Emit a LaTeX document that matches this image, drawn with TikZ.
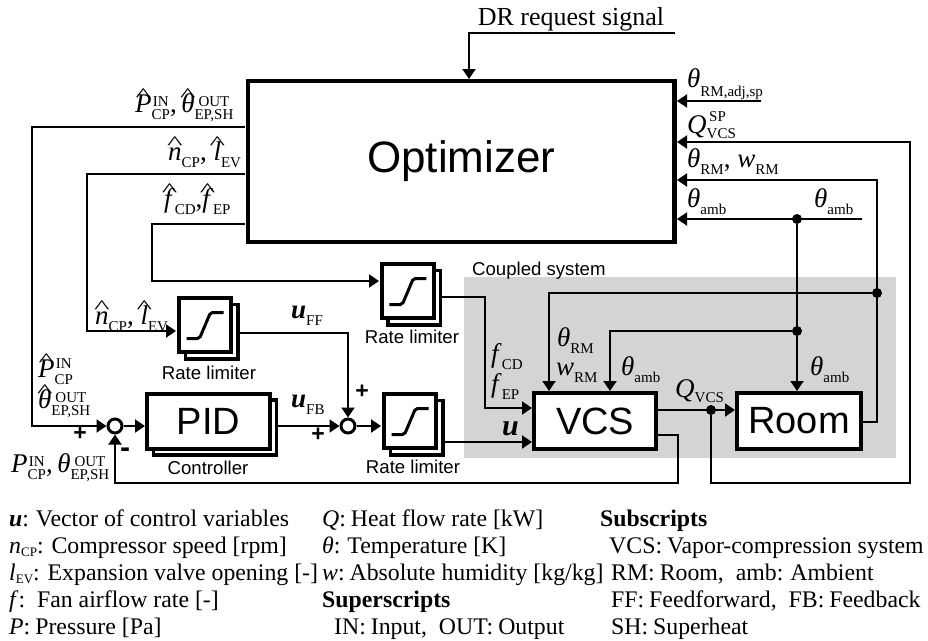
\documentclass[tikz,border=0pt]{standalone}
\usepackage{graphicx}
\usepackage{fontspec}
\setmainfont{Liberation Serif}
\newfontfamily\armfont{Liberation Sans}
\usetikzlibrary{arrows.meta, shadows}

% Variables in the labels
\newcommand{\vth}{\textit{θ}}
\newcommand{\vbf}[1]{\textbf{\textit{#1}}}
\newcommand{\lo}[2][7]{\raisebox{-#1pt}{\fontsize{15}{15}\selectfont #2}}
\newcommand{\stk}[3][6]{{\fontsize{15}{15}\selectfont\setbox0\hbox{#3}\rlap{\hbox to\wd0{\hss\raisebox{#1pt}{#2}\hss}}\raisebox{-7.5pt}{\box0}}}
\newcommand{\vhat}[1]{{\setbox0\hbox{#1}\rlap{\hbox to\wd0{\hss\raisebox{11pt}{\scalebox{1.1}[.65]{\fontsize{30}{30}\selectfont\textasciicircum}}\hss}}\box0}}
\newcommand{\legsub}[1]{\raisebox{-.35ex}{\fontsize{13}{13}\selectfont #1}}

\tikzset{
    sig/.style={line width=2pt, -{Triangle[length=10pt,width=13pt]}},
    wire/.style={line width=2pt},
    blockbox/.style={draw, line width=4pt, fill=white, inner sep=0pt, font=\armfont\fontsize{38}{40}\selectfont},
    boxshadow/.style={copy shadow={shadow xshift=6.5pt, shadow yshift=-6.5pt, draw, fill=white, line width=3.5pt}},
    limiterbox/.style={blockbox, minimum width=52.5pt, minimum height=54.5pt, boxshadow},
    satcurve/.style={line width=3pt, rounded corners=2pt},
    sumnode/.style={circle, draw, line width=3pt, fill=white, minimum size=14pt, inner sep=0pt},
    dotnode/.style={circle, fill=black, minimum size=10pt, inner sep=0pt},
    varlabel/.style={anchor=base west, inner sep=0pt, font=\fontsize{27}{29}\selectfont},
    sanslabel/.style={inner sep=0pt, font=\armfont\fontsize{18.6}{20}\selectfont},
    signlabel/.style={inner sep=0pt, font=\armfont\bfseries\fontsize{23}{25}\selectfont},
    leglabel/.style={anchor=base west, inner sep=0pt, font=\fontsize{23.8}{25}\selectfont},
}

\begin{document}
\begin{tikzpicture}[x=1pt, y=-1pt]
    \useasboundingbox (0,0) rectangle (928,640);

    % Grey area behind the coupled system
    \fill[black!17] (464,277) rectangle (896,458);
    \node[sanslabel, anchor=base west] (coupled) at (472,275.5) {Coupled system};

    % Define the blocks
    \node[blockbox, line width=4.5pt, minimum width=426.5pt, minimum height=161pt, font=\armfont\fontsize{44}{46}\selectfont] (optimizer) at (461.2,161.5) {Optimizer};
    \node[blockbox, minimum width=121.5pt, minimum height=55.4pt] (vcs) at (595.2,421) {VCS};
    \node[blockbox, minimum width=123.7pt, minimum height=55.4pt] (room) at (799,421) {Room};
    \node[blockbox, minimum width=123pt, minimum height=55pt, boxshadow] (pid) at (208.5,421.2) {PID};
    \node[limiterbox] (limiterCD) at (407.8,291) {};
    \node[limiterbox] (limiterEV) at (205,325) {};
    \node[limiterbox] (limiterU) at (410,421) {};
    \node[sumnode] (sumFB) at (115,426) {};
    \node[sumnode] (sumU) at (348,426) {};

    % Saturation curves inside the rate limiters
    \draw[satcurve] ([shift={(-18.5,13.5)}]limiterCD.center) -- ++(13,0) -- ++(11,-26) -- ++(13,0);
    \draw[satcurve] ([shift={(-18.5,13.5)}]limiterEV.center) -- ++(13,0) -- ++(11,-26) -- ++(13,0);
    \draw[satcurve] ([shift={(-18.5,13.5)}]limiterU.center) -- ++(13,0) -- ++(11,-26) -- ++(13,0);

    % Define the points where the wires turn
    \coordinate (drEnd) at (675,33);
    \coordinate (drTurn) at (469,33);
    \coordinate (drIn) at (469,79);
    \coordinate (adjEnd) at (761,101);
    \coordinate (adjIn) at (677,101);
    \coordinate (qspIn) at (677,142);
    \coordinate (qspCorner) at (910,142);
    \coordinate (qspLow) at (910,483);
    \coordinate (qspLeft) at (711,483);
    \coordinate (rmIn) at (677,180);
    \coordinate (rmCorner) at (877,180);
    \coordinate (rmOut) at (863,422);
    \coordinate (rmLow) at (877,422);
    \coordinate (ambIn) at (677,219);
    \coordinate (ambEnd) at (862,219);
    \coordinate (rmLeft) at (549,293);
    \coordinate (rmVcs) at (549,391);
    \coordinate (ambLeft) at (610,331);
    \coordinate (ambVcs) at (610,391);
    \coordinate (ambRoom) at (797,391);
    \coordinate (vcsOut) at (657,435);
    \coordinate (vcsCorner) at (678,435);
    \coordinate (vcsLow) at (678,483);
    \coordinate (fbLow) at (115,483);
    \coordinate (pOut) at (245,127);
    \coordinate (pCorner) at (32,127);
    \coordinate (pLow) at (32,426);
    \coordinate (nOut) at (245,174);
    \coordinate (nCorner) at (87,174);
    \coordinate (nLow) at (87,331);
    \coordinate (fOut) at (245,224);
    \coordinate (fCorner) at (152,224);
    \coordinate (fLow) at (152,281);
    \coordinate (fIn) at (379,281);
    \coordinate (nIn) at (176,331);
    \coordinate (ffOut) at (240,333);
    \coordinate (ffCorner) at (348,333);
    \coordinate (cdOut) at (442,297);
    \coordinate (cdCorner) at (485,297);
    \coordinate (cdLow) at (485,408);
    \coordinate (cdIn) at (532,408);
    \coordinate (uOut) at (444,442);
    \coordinate (uIn) at (532,442);
    \coordinate (qIn) at (735,410);
    \coordinate (qOut) at (657,410);
    \coordinate (pidIn) at (145,426);
    \coordinate (pidOut) at (278,426);
    \coordinate (limiterUIn) at (381,426);
    \node[dotnode] (dotAmbTop) at (797,219) {};
    \node[dotnode] (dotAmbLow) at (797,331) {};
    \node[dotnode] (dotRm) at (877,293) {};
    \node[dotnode] (dotQ) at (711,410) {};

    % Draw the signal wires
    \draw[sig] (drEnd) -- (drTurn) -- (drIn);
    \draw[sig] (adjEnd) -- (adjIn);
    \draw[sig] (dotQ) -- (qspLeft) -- (qspLow) -- (qspCorner) -- (qspIn);
    \draw[sig] (rmOut) -- (rmLow) -- (rmCorner) -- (rmIn);
    \draw[sig] (ambEnd) -- (ambIn);
    \draw[wire] (dotAmbTop) -- (dotAmbLow);
    \draw[sig] (dotAmbLow) -- (ambRoom);
    \draw[sig] (dotAmbLow) -- (ambLeft) -- (ambVcs);
    \draw[sig] (dotRm) -- (rmLeft) -- (rmVcs);
    \draw[sig] (qOut) -- (qIn);
    \draw[sig] (vcsOut) -- (vcsCorner) -- (vcsLow) -- (fbLow) -- (sumFB.south);
    \draw[sig] (pOut) -- (pCorner) -- (pLow) -- (sumFB.west);
    \draw[sig] (nOut) -- (nCorner) -- (nLow) -- (nIn);
    \draw[sig] (fOut) -- (fCorner) -- (fLow) -- (fIn);
    \draw[sig] (ffOut) -- (ffCorner) -- (sumU.north);
    \draw[sig] (cdOut) -- (cdCorner) -- (cdLow) -- (cdIn);
    \draw[sig] (uOut) -- (uIn);
    \draw[sig] (sumFB.east) -- (pidIn);
    \draw[sig] (pidOut) -- (sumU.west);
    \draw[sig] (sumU.east) -- (limiterUIn);

    % Place the labels
    \node[varlabel, anchor=base] (drLabel) at (571,25) {\fontsize{26}{28}\selectfont DR request signal};
    \node[varlabel] (adjLabel) at (687,87) {\vth\lo[9]{RM,adj,sp}};
    \node[varlabel] (qspLabel) at (687,133) {\textit{Q}\rlap{\raisebox{12pt}{\fontsize{15}{15}\selectfont\,SP}}\lo[5]{VCS}};
    \node[varlabel] (rmLabel) at (687,167) {\vth\lo{RM},\ \textit{w}\lo{RM}};
    \node[varlabel] (ambLabel) at (687,207) {\vth\lo{amb}};
    \node[varlabel] (ambTopLabel) at (814,207) {\vth\lo{amb}};
    \node[varlabel] (pHatLabel) at (135,112) {\vhat{\textit{P}}\stk{IN}{CP},\,\vhat{\vth}\stk{OUT}{EP,SH}};
    \node[varlabel] (nHatLabel) at (168,160) {\vhat{\textit{n}}\lo{CP},\ \vhat{\textit{l}}\lo{EV}};
    \node[varlabel] (fHatLabel) at (164,207) {\vhat{\textit{f}}\lo{CD},\vhat{\textit{f}}\lo{EP}};
    \node[varlabel] (nLimLabel) at (95,324) {\vhat{\textit{n}}\lo{CP},\ \vhat{\textit{l}}\lo{EV}};
    \node[varlabel] (uffLabel) at (291,318) {\vbf{u}\lo{FF}};
    \node[varlabel] (ufbLabel) at (291,407) {\vbf{u}\lo{FB}};
    \node[varlabel] (pStackLabel) at (38,377) {\vhat{\textit{P}}\stk[9]{IN}{CP}};
    \node[varlabel] (thStackLabel) at (38,408) {\vhat{\vth}\stk{OUT}{EP,SH}};
    \node[varlabel] (pMeasLabel) at (11,472) {\textit{P}\stk{IN}{CP},\,\vth\stk{OUT}{EP,SH}};
    \node[varlabel] (fcdLabel) at (491,362) {\textit{f}\lo{CD}};
    \node[varlabel] (fepLabel) at (491,392) {\textit{f}\lo{EP}};
    \node[varlabel] (thRmLabel) at (557,346) {\vth\lo{RM}};
    \node[varlabel] (wRmLabel) at (556,375) {\textit{w}\lo{RM}};
    \node[varlabel] (thVcsLabel) at (621,375) {\vth\lo{amb}};
    \node[varlabel] (qVcsLabel) at (675,397) {\textit{Q}\lo[5]{VCS}};
    \node[varlabel] (thRoomLabel) at (810,375) {\vth\lo{amb}};
    \node[varlabel] (uLabel) at (502,435) {\fontsize{30}{32}\selectfont\textbf{\textit{u}}};
    \node[sanslabel, anchor=base] (limCDLabel) at (412,343) {Rate limiter};
    \node[sanslabel, anchor=base] (limEVLabel) at (209,379) {Rate limiter};
    \node[sanslabel, anchor=base] (limULabel) at (413,473) {Rate limiter};
    \node[sanslabel, anchor=base] (ctrlLabel) at (208,474) {Controller};
    \node[signlabel] (plusA) at (80,434) {+};
    \node[signlabel, font=\armfont\bfseries\fontsize{30}{30}\selectfont] (minusA) at (125,453) {-};
    \node[signlabel] (plusB) at (362,392) {+};
    \node[signlabel] (plusC) at (318,435) {+};

    % Place the legend
    \node[leglabel] (legU) at (9,526) {\vbf{u}:\hspace{-1pt} Vector of control variables};
    \node[leglabel] (legN) at (9,553) {\textit{n}\legsub{CP}: Compressor speed [rpm]};
    \node[leglabel] (legL) at (9,580) {\textit{l}\legsub{EV}: Expansion valve opening [-]};
    \node[leglabel] (legF) at (9,607) {\textit{f}:\ \ Fan airflow rate [-]};
    \node[leglabel] (legP) at (9,634) {\textit{P}:\hspace{-1pt} Pressure [Pa]};
    \node[leglabel] (legQ) at (322,526) {\textit{Q}:\hspace{-1pt} Heat flow rate [kW]};
    \node[leglabel] (legTh) at (322,553) {\textit{θ}:\hspace{-1pt} Temperature [K]};
    \node[leglabel] (legW) at (322,580) {\textit{w}:\hspace{-3pt} Absolute humidity [kg/kg]};
    \node[leglabel] (legSup) at (322,607) {\textbf{Superscripts}};
    \node[leglabel] (legIn) at (334,634) {IN:\hspace{-1pt} Input,\ \ OUT:\hspace{-1pt} Output};
    \node[leglabel] (legSub) at (600,526) {\textbf{Subscripts}};
    \node[leglabel] (legVcs) at (609,553) {VCS:\hspace{-1pt} Vapor-compression system};
    \node[leglabel] (legRm) at (611,580) {RM:\hspace{-1pt} Room,\ \ amb:\hspace{-1pt} Ambient};
    \node[leglabel] (legFf) at (611,607) {FF:\hspace{-1pt} Feedforward,\ \ FB:\hspace{-1pt} Feedback};
    \node[leglabel] (legSh) at (611,634) {SH:\hspace{-1pt} Superheat};
\end{tikzpicture}
\end{document}
